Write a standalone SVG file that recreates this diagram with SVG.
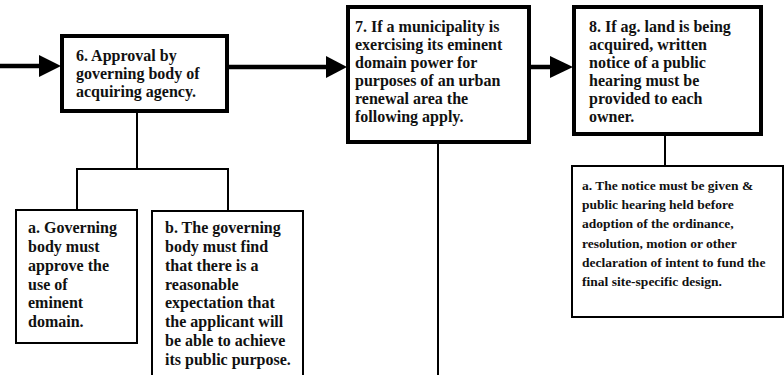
<svg xmlns="http://www.w3.org/2000/svg" width="784" height="375" viewBox="0 0 784 375">
<style>
.main{fill:#fff;stroke:#000;stroke-width:4}
.sub{fill:#fff;stroke:#000;stroke-width:2}
.ln{stroke:#000;stroke-width:2;fill:none}
.ar{stroke:#000;stroke-width:4.5;fill:none}
.hd{fill:#000}
text{font-family:"Liberation Serif","Times New Roman",serif;font-weight:bold;font-size:16px;fill:#111}
.sm{font-size:13.5px}
</style>
<rect width="784" height="375" fill="#fff"/>
<g id="connectors">
<line class="ar" x1="0" y1="66" x2="42" y2="66"/>
<polygon class="hd" points="39,55 61,66 39,77"/>
<line class="ar" x1="229" y1="67" x2="330" y2="67"/>
<polygon class="hd" points="326,56 347,67 326,78"/>
<line class="ar" x1="531" y1="67" x2="553" y2="67"/>
<polygon class="hd" points="550,56 573,67 550,78"/>
<polyline class="ln" points="137,113 137,169"/>
<polyline class="ln" points="77,210 77,169 228,169 228,211"/>
<line class="ln" x1="438" y1="144" x2="438" y2="375"/>
<line class="ln" x1="665" y1="136" x2="665" y2="166"/>
</g>
<g id="n6">
<rect class="main" x="62" y="36" width="165" height="75"/>
<text x="76" y="61">6. Approval by</text>
<text x="76" y="79">governing body of</text>
<text x="76" y="97">acquiring agency.</text>
</g>
<g id="n6a">
<rect class="sub" x="16" y="210" width="121" height="133"/>
<text x="28" y="233">a. Governing</text>
<text x="28" y="252">body must</text>
<text x="28" y="271">approve the</text>
<text x="28" y="290">use of</text>
<text x="28" y="308">eminent</text>
<text x="28" y="327">domain.</text>
</g>
<g id="n6b">
<rect class="sub" x="152" y="211" width="151" height="175"/>
<text x="165" y="233">b. The governing</text>
<text x="165" y="252">body must find</text>
<text x="165" y="271">that there is a</text>
<text x="165" y="290">reasonable</text>
<text x="165" y="308">expectation that</text>
<text x="165" y="327">the applicant will</text>
<text x="165" y="346">be able to achieve</text>
<text x="165" y="365">its public purpose.</text>
</g>
<g id="n7">
<rect class="main" x="348" y="7" width="181" height="135"/>
<text x="355" y="32">7. If a municipality is</text>
<text x="355" y="50">exercising its eminent</text>
<text x="355" y="68">domain power for</text>
<text x="355" y="86">purposes of an urban</text>
<text x="355" y="104">renewal area the</text>
<text x="355" y="122">following apply.</text>
</g>
<g id="n8">
<rect class="main" x="574" y="7" width="187" height="127"/>
<text x="589" y="32">8. If ag. land is being</text>
<text x="589" y="50">acquired, written</text>
<text x="589" y="68">notice of a public</text>
<text x="589" y="86">hearing must be</text>
<text x="589" y="104">provided to each</text>
<text x="589" y="122">owner.</text>
</g>
<g id="n8a">
<rect class="sub" x="572" y="166" width="211" height="151"/>
<text class="sm" x="582" y="190">a. The notice must be given &amp;</text>
<text class="sm" x="582" y="209">public hearing held before</text>
<text class="sm" x="582" y="228">adoption of the ordinance,</text>
<text class="sm" x="582" y="248">resolution, motion or other</text>
<text class="sm" x="582" y="267">declaration of intent to fund the</text>
<text class="sm" x="582" y="286">final site-specific design.</text>
</g>
</svg>
